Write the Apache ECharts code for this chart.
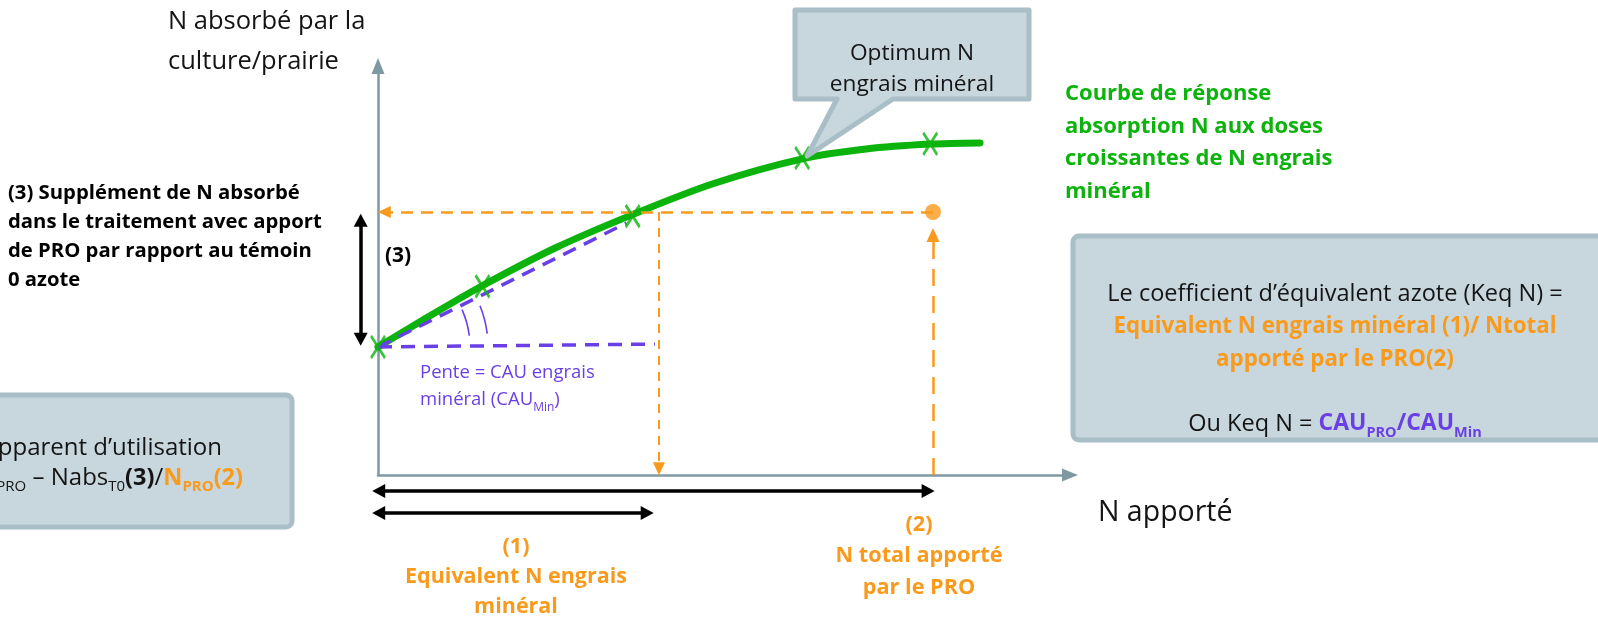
<!DOCTYPE html>
<html><head><meta charset="utf-8">
<script src="https://cdn.jsdelivr.net/npm/echarts@6/dist/echarts.min.js"></script>
<style>html,body{margin:0;padding:0;background:#fff}#c{width:1598px;height:623px}</style>
</head><body><div id="c"></div>
<script>
// ---------- data (axis units 0..100) ----------
const curveX = [0, 7.2, 15.0, 25.6, 36.7, 48.4, 61.3, 70.5, 79.8, 87.0];
const curveY = [31.3, 38.6, 46.2, 55.5, 63.6, 71.2, 77.3, 79.7, 80.9, 81.2];
const doseX = [0, 15.1, 36.8, 61.3, 79.8];
const doseY = [31.3, 46.1, 63.3, 77.5, 81.0];
const nAbsT0 = 31.3;       // témoin 0 azote
const nAbsPro = 64.3;      // N absorbé avec PRO
const eqMinX = 40.6;       // (1) équivalent N engrais minéral
const nTotalPro = 80.2;    // (2) N total apporté par le PRO
const slopeEnd = [35.9, 61.6];
const flatEnd = [40.0, 32.0];
const arrow3X = -2.5;      // double flèche (3)
const arrow12Y = [-3.9, -9.3];

// ---------- layout ----------
const W = 1598, H = 623;
const G = {left: 378, top: 66, right: 1070, bottom: 475};
const xs = (G.right - G.left) / 100, ys = (G.bottom - G.top) / 100;
const FONT = '"Open Sans", Lato, sans-serif';
const C = {green: '#0cb30c', orange: '#f99a1c', purple: '#6a40e6', axis: '#7f99a2',
           boxFill: '#c8d7dd', boxLine: '#a9bec6', text: '#141414'};

function seg(p1, p2, style, s1, s2, size) {
  return [
    {coord: p1, symbol: s1 || 'none', symbolSize: size || 10, lineStyle: style},
    {coord: p2, symbol: s2 || 'none', symbolSize: size || 10}
  ];
}
const orangeDash = {color: C.orange, width: 2.5, type: [12, 8]};
const orangeDashThin = {color: C.orange, width: 2, type: [9, 7]};
const orangeDashLong = {color: C.orange, width: 2.5, type: [17, 10]};
const purpleDash = {color: C.purple, width: 3.5, type: [14, 9]};
const blackSolid = {color: '#000', width: 3.5, type: 'solid'};

const chart = echarts.init(document.getElementById('c'));
const hiddenAxis = (gi, min, max) => ({type: 'value', gridIndex: gi, min, max, show: false});
const shownAxis = {
  type: 'value', gridIndex: 0, min: 0, max: 100,
  axisLine: {show: true, symbol: ['none', 'triangle'], symbolSize: [13, 16],
             lineStyle: {color: C.axis, width: 2.5}},
  axisTick: {show: false}, axisLabel: {show: false}, splitLine: {show: false}
};

chart.setOption({
  animation: false,
  grid: [
    {left: G.left, top: G.top, width: G.right - G.left, height: G.bottom - G.top},
    {left: 0, top: 0, width: W, height: H}
  ],
  xAxis: [shownAxis, hiddenAxis(1, -G.left / xs, (W - G.left) / xs)],
  yAxis: [Object.assign({}, shownAxis), hiddenAxis(1, -(H - G.bottom) / ys, G.bottom / ys)],
  series: [
    {type: 'line', xAxisIndex: 0, yAxisIndex: 0, data: [], silent: true},
    {
      type: 'line', xAxisIndex: 1, yAxisIndex: 1, silent: true, z: 2,
      data: [[0, 0]], symbol: 'none', lineStyle: {opacity: 0},
      markLine: {
        silent: true, symbol: ['none', 'none'], label: {show: false},
        emphasis: {disabled: true}, animation: false,
        data: [
          seg([0, nAbsT0], slopeEnd, purpleDash),
          seg([0, nAbsT0], flatEnd, purpleDash),
          seg([nTotalPro, nAbsPro], [0.9, nAbsPro], orangeDash, 'none', 'triangle', [12, 13]),
          seg([eqMinX, nAbsPro], [eqMinX, 1.5], orangeDashThin, 'none', 'triangle', [12, 13]),
          seg([nTotalPro, 0], [nTotalPro, 58.7], orangeDashLong, 'none', 'triangle', [13, 14]),
          seg([arrow3X, 62.3], [arrow3X, 33.2], blackSolid, 'triangle', 'triangle', [14, 13]),
          seg([0.1, arrow12Y[0]], [79.5, arrow12Y[0]], blackSolid, 'triangle', 'triangle', [14, 13]),
          seg([0.1, arrow12Y[1]], [38.9, arrow12Y[1]], blackSolid, 'triangle', 'triangle', [14, 13])
        ]
      }
    },
    {
      type: 'line', name: 'Courbe de réponse', xAxisIndex: 1, yAxisIndex: 1, z: 3, silent: true,
      data: curveX.map((x, i) => [x, curveY[i]]),
      smooth: 0.3, symbol: 'none', showSymbol: false,
      lineStyle: {color: C.green, width: 7, cap: 'round'}
    },
    {
      type: 'scatter', xAxisIndex: 1, yAxisIndex: 1, z: 5, silent: true,
      data: doseX.map((x, i) => [x, doseY[i]]),
      symbol: 'path://M0,0L12,18M12,0L0,18', symbolSize: [14, 22],
      itemStyle: {color: 'rgba(0,0,0,0)', borderColor: C.green, borderWidth: 3}
    },
    {
      type: 'scatter', xAxisIndex: 1, yAxisIndex: 1, z: 5, silent: true,
      data: [[nTotalPro, nAbsPro]], symbol: 'circle', symbolSize: 16,
      itemStyle: {color: C.orange}
    }
  ]
});

const px = p => chart.convertToPixel({xAxisIndex: 1, yAxisIndex: 1}, p);
const o = px([0, nAbsT0]);
const tip = px([doseX[3], doseY[3]]);

function txt(x, y, text, st) {
  return {type: 'text', x, y, z: 20, silent: true,
          style: Object.assign({text, fill: C.text, fontFamily: FONT, fontSize: 21,
                                align: 'left', verticalAlign: 'top'}, st)};
}
const boxStyle = {fill: C.boxFill, stroke: C.boxLine, lineWidth: 5};

chart.setOption({
  graphic: [
    // boxes
    {type: 'rect', z: 10, silent: true, shape: {x: -20, y: 395, width: 312, height: 132, r: 6}, style: boxStyle},
    {type: 'rect', z: 10, silent: true, shape: {x: 1073, y: 236, width: 600, height: 204, r: 6}, style: boxStyle},
    {type: 'polygon', z: 10, silent: true,
     shape: {points: [[795, 10], [1029, 10], [1029, 99], [893, 99], [tip[0] + 5, tip[1] - 2], [837, 99], [795, 99]]},
     style: Object.assign({lineJoin: 'round'}, boxStyle)},
    // angle arcs
    {type: 'arc', z: 6, silent: true, shape: {cx: o[0], cy: o[1], r: 92, startAngle: -24 * Math.PI / 180, endAngle: -7 * Math.PI / 180, clockwise: true},
     style: {stroke: C.purple, fill: null, lineWidth: 1.6}},
    {type: 'arc', z: 6, silent: true, shape: {cx: o[0], cy: o[1], r: 110, startAngle: -22 * Math.PI / 180, endAngle: -7 * Math.PI / 180, clockwise: true},
     style: {stroke: C.purple, fill: null, lineWidth: 1.6}},
    // axis titles
    txt(168, 2, 'N absorbé par la\nculture/prairie', {fontSize: 25.5, lineHeight: 40}),
    txt(1098, 513, 'N apporté', {fontSize: 28.5, verticalAlign: 'middle'}),
    // bubble
    txt(912, 38, 'Optimum N\nengrais minéral', {align: 'center', lineHeight: 31, fontSize: 22.7}),
    // green label
    txt(1065, 78, 'Courbe de réponse\nabsorption N aux doses\ncroissantes de N engrais\nminéral',
        {fill: C.green, fontWeight: 'bold', fontSize: 22, lineHeight: 32.4}),
    // left bold label
    txt(8, 178.5, '(3) Supplément de N absorbé\ndans le traitement avec apport\nde PRO par rapport au témoin\n0 azote',
        {fontWeight: 'bold', fontSize: 20.3, lineHeight: 29, fill: '#000'}),
    txt(398, 256, '(3)', {fontWeight: 'bold', fontSize: 21, align: 'center', verticalAlign: 'middle', fill: '#000'}),
    // purple slope text
    txt(420, 359.5, 'Pente = CAU engrais\nminéral (CAU{s|Min})',
        {fill: C.purple, fontSize: 18.5, lineHeight: 27,
         rich: {s: {fill: C.purple, fontFamily: FONT, fontSize: 12, lineHeight: 18, verticalAlign: 'bottom'}}}),
    // orange (1) and (2)
    txt(516, 532, '(1)\nEquivalent N engrais\nminéral',
        {fill: C.orange, fontWeight: 'bold', fontSize: 21.5, lineHeight: 30, align: 'center'}),
    txt(919, 509, '(2)\nN total apporté\npar le PRO',
        {fill: C.orange, fontWeight: 'bold', fontSize: 21.7, lineHeight: 31.5, align: 'center'}),
    // right box text
    txt(1335, 278.5, 'Le coefficient d’équivalent azote (Keq N) =\n{o|Equivalent N engrais minéral (1)/ Ntotal}\n{o|apporté par le PRO(2)}\n \nOu Keq N = {p|CAU}{ps|PRO}{p|/CAU}{ps|Min}',
        {align: 'center', lineHeight: 32.3, fontSize: 23.5,
         rich: {
           o: {fill: C.orange, fontWeight: 'bold', fontFamily: FONT, fontSize: 22.3, lineHeight: 32.3},
           p: {fill: C.purple, fontWeight: 'bold', fontFamily: FONT, fontSize: 23, lineHeight: 32.3},
           ps: {fill: C.purple, fontWeight: 'bold', fontFamily: FONT, fontSize: 14.5, lineHeight: 22, verticalAlign: 'bottom'}
         }}),
    // left box text (cut by the page edge)
    txt(222, 448, 'Coefficient apparent d’utilisation', {align: 'right', verticalAlign: 'middle', fontSize: 24}),
    txt(243, 462, 'CAU{s|PRO} = Nabs{s|PRO} – Nabs{s|T0}{b|(3)}/{o|N}{os|PRO}{o|(2)}',
        {align: 'right', lineHeight: 32, fontSize: 24,
         rich: {
           s: {fill: C.text, fontFamily: FONT, fontSize: 15, lineHeight: 21, verticalAlign: 'bottom'},
           b: {fill: C.text, fontFamily: FONT, fontWeight: 'bold', fontSize: 23.5, lineHeight: 32},
           o: {fill: C.orange, fontFamily: FONT, fontWeight: 'bold', fontSize: 23.5, lineHeight: 32},
           os: {fill: C.orange, fontFamily: FONT, fontWeight: 'bold', fontSize: 15, lineHeight: 21, verticalAlign: 'bottom'}
         }})
  ]
});
</script>
</body></html>
